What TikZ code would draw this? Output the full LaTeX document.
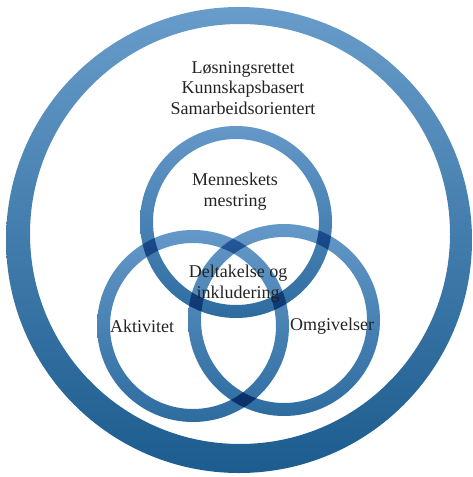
\documentclass[tikz,border=0pt]{standalone}
\usepackage{fontspec}
\setmainfont{Liberation Serif}
\usetikzlibrary{positioning}

\definecolor{ringtop}{RGB}{104,156,202}
\definecolor{ringbottom}{RGB}{28,92,142}
\definecolor{looptop}{RGB}{100,152,200}
\definecolor{loopbottom}{RGB}{46,108,160}
\definecolor{textgray}{RGB}{35,35,35}

\begin{document}
\begin{tikzpicture}[x=0.75pt, y=-0.75pt]

        % --- Styles ---
        \tikzstyle{ring} = [top color=ringtop, bottom color=ringbottom, even odd rule]
        \tikzstyle{circlering} = [top color=looptop, bottom color=loopbottom, even odd rule]
        \tikzstyle{tekst} = [align=center, text=textgray, font=\fontsize{13.5}{15.5}\selectfont, inner sep=0pt]

        \useasboundingbox (0,0) rectangle (472,477);

        % --- Outer ring ---
        \shade[ring] (239,240) circle (174.75pt) (240,234) circle (157.5pt);

        % --- Three circles ---
        \coordinate (topc) at (236,222);
        \coordinate (leftc) at (193,326);
        \coordinate (rightc) at (284,320);
        \begin{scope}[blend mode=multiply]
        \shade[circlering] (topc) circle (72pt) (topc) circle (62.25pt);
        \shade[circlering] (leftc) circle (72pt) (leftc) circle (62.25pt);
        \shade[circlering] (rightc) circle (72pt) (rightc) circle (62.25pt);
        \end{scope}

        % --- Texts ---
        \node[tekst] (arbeidsform) at (243,88) {Løsningsrettet\\Kunnskapsbasert\\Samarbeidsorientert};
        \node[tekst] (mestring) at (235,192) {Menneskets\\mestring};
        \node[tekst] (deltakelse) at (238,284) {Deltakelse og\\inkludering};
        \node[tekst] (aktivitet) at (142,326) {Aktivitet};
        \node[tekst] (omgivelser) at (332,326) {Omgivelser};
\end{tikzpicture}
\end{document}
